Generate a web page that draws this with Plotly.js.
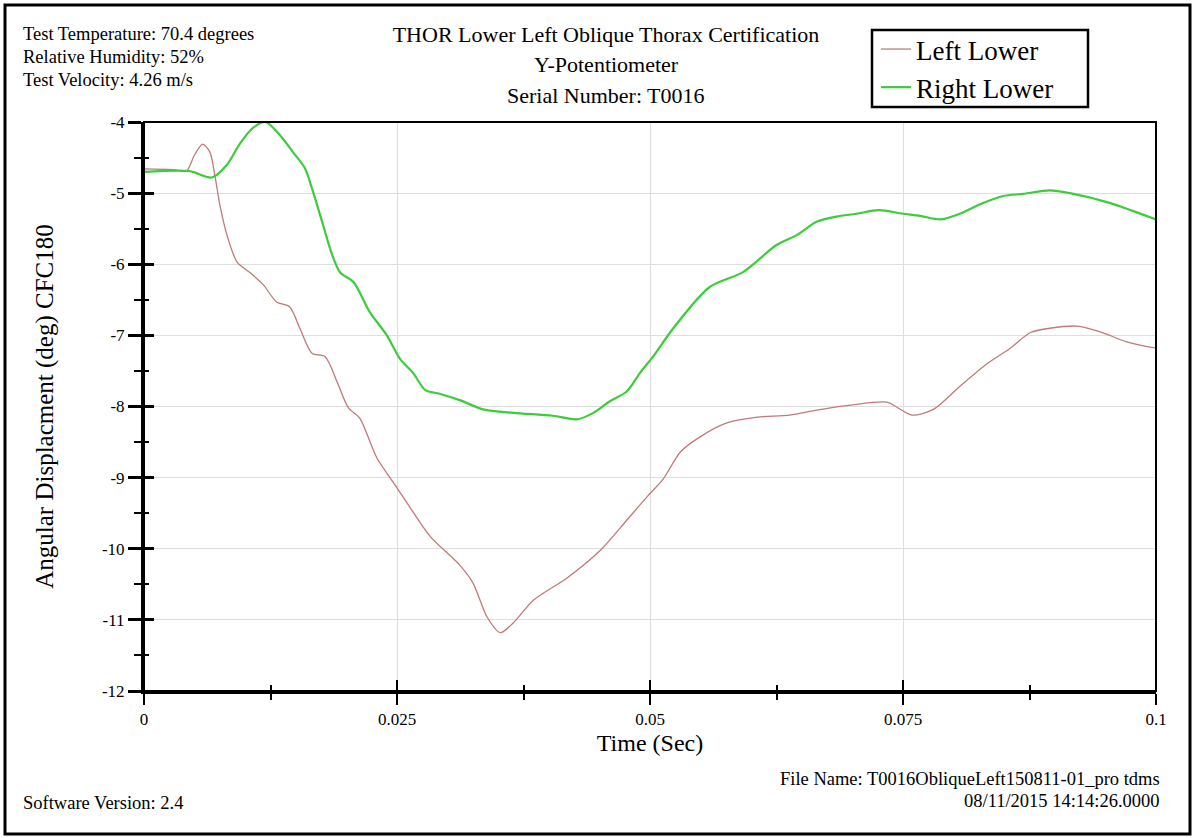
<!DOCTYPE html>
<html>
<head>
<meta charset="utf-8">
<script src="https://cdn.plot.ly/plotly-3.0.1.min.js"></script>
<style>html,body{margin:0;padding:0;background:#fff;}#chart{width:1195px;height:838px;}</style>
</head>
<body>
<div id="chart"></div>
<script>
// Left Lower (red) series
const leftTime = [0, 0.0029, 0.0042, 0.0050, 0.0058, 0.0065, 0.0070, 0.0075, 0.0082, 0.0092, 0.0105, 0.0118, 0.0131, 0.0144, 0.0154, 0.0166, 0.0179, 0.0191, 0.0202, 0.0213, 0.0230, 0.0246, 0.0262, 0.0283, 0.0312, 0.0325, 0.0339, 0.0352, 0.0365, 0.0385, 0.0418, 0.0451, 0.0477, 0.0497, 0.0513, 0.0530, 0.0549, 0.0576, 0.0606, 0.0638, 0.0665, 0.0698, 0.0734, 0.0744, 0.0759, 0.0780, 0.0806, 0.0833, 0.0856, 0.0876, 0.0895, 0.0922, 0.0945, 0.0971, 0.1000];
const leftValues = [-4.66, -4.67, -4.69, -4.46, -4.31, -4.42, -4.75, -5.17, -5.59, -5.97, -6.12, -6.29, -6.53, -6.60, -6.90, -7.25, -7.30, -7.66, -8.02, -8.16, -8.72, -9.06, -9.40, -9.83, -10.23, -10.48, -10.96, -11.18, -11.04, -10.72, -10.41, -10.02, -9.60, -9.27, -9.02, -8.64, -8.43, -8.23, -8.15, -8.12, -8.05, -7.98, -7.94, -8.01, -8.12, -8.04, -7.72, -7.40, -7.18, -6.96, -6.90, -6.87, -6.95, -7.09, -7.18];

// Right Lower (green) series
const rightTime = [0, 0.0045, 0.0067, 0.0082, 0.0095, 0.0108, 0.0120, 0.0134, 0.0147, 0.0159, 0.0167, 0.0177, 0.0186, 0.0194, 0.0207, 0.0223, 0.0240, 0.0253, 0.0266, 0.0278, 0.0292, 0.0312, 0.0335, 0.0365, 0.0404, 0.0428, 0.0444, 0.0460, 0.0477, 0.0490, 0.0503, 0.0523, 0.0559, 0.0592, 0.0625, 0.0645, 0.0665, 0.0684, 0.0704, 0.0726, 0.0750, 0.0767, 0.0787, 0.0806, 0.0829, 0.0849, 0.0869, 0.0895, 0.0915, 0.0955, 0.0977, 0.1000];
const rightValues = [-4.70, -4.69, -4.78, -4.60, -4.30, -4.08, -4.00, -4.18, -4.42, -4.65, -4.98, -5.45, -5.87, -6.12, -6.25, -6.67, -7.00, -7.33, -7.53, -7.77, -7.82, -7.91, -8.04, -8.09, -8.13, -8.18, -8.09, -7.93, -7.79, -7.53, -7.30, -6.90, -6.32, -6.11, -5.73, -5.59, -5.40, -5.33, -5.29, -5.24, -5.29, -5.32, -5.37, -5.29, -5.14, -5.04, -5.01, -4.96, -5.00, -5.14, -5.25, -5.37];

const seriesNames = ['Left Lower', 'Right Lower'];
const xTickVals = [0, 0.025, 0.05, 0.075, 0.1];
const xTickText = ['0', '0.025', '0.05', '0.075', '0.1'];
const yTickVals = [-12, -11, -10, -9, -8, -7, -6, -5, -4];
const yTickText = ['-12', '-11', '-10', '-9', '-8', '-7', '-6', '-5', '-4'];

const infoLeft = ['Test Temperature: 70.4 degrees', 'Relative Humidity: 52%', 'Test Velocity: 4.26 m/s'];
const titleLines = ['THOR Lower Left Oblique Thorax Certification', 'Y-Potentiometer', 'Serial Number: T0016'];
const footerRight = ['File Name: T0016ObliqueLeft150811-01_pro tdms', '08/11/2015 14:14:26.0000'];
const footerLeft = 'Software Version: 2.4';

const FONT = 'Liberation Serif';
const W = 1195, H = 838;
const M = {l: 144, r: 39, t: 122, b: 147};
// helpers converting page pixels to paper coords (for text placement only)
const px2x = p => (p - M.l) / (W - M.l - M.r);
const py2y = p => (H - M.b - p) / (H - M.t - M.b);

const traces = [
  {x: leftTime, y: leftValues, name: seriesNames[0], type: 'scatter', mode: 'lines',
   line: {color: '#c07a7a', width: 1.3, shape: 'spline', smoothing: 0.8}},
  {x: rightTime, y: rightValues, name: seriesNames[1], type: 'scatter', mode: 'lines',
   line: {color: '#3ccc3c', width: 2.2, shape: 'spline', smoothing: 0.8}},
  {x: [], y: [], xaxis: 'x2', yaxis: 'y2', showlegend: false, hoverinfo: 'skip', type: 'scatter', mode: 'lines'}
];

const annotations = [];
infoLeft.forEach((t, i) => annotations.push({
  text: t, xref: 'paper', yref: 'paper', x: px2x(21), y: py2y(34 + i * 23),
  xanchor: 'left', yanchor: 'middle', showarrow: false, font: {family: FONT, size: 18.5, color: '#000'}
}));
titleLines.slice(1).forEach((t, i) => annotations.push({
  text: t, xref: 'paper', yref: 'paper', x: px2x(606), y: py2y(65 + i * 30),
  xanchor: 'center', yanchor: 'middle', showarrow: false, font: {family: FONT, size: 22, color: '#000'}
}));
footerRight.forEach((t, i) => annotations.push({
  text: t, xref: 'paper', yref: 'paper', x: px2x(1162), y: py2y(779 + i * 22),
  xanchor: 'right', yanchor: 'middle', showarrow: false, font: {family: FONT, size: 18.5, color: '#000'}
}));
annotations.push({
  text: footerLeft, xref: 'paper', yref: 'paper', x: px2x(21), y: py2y(803),
  xanchor: 'left', yanchor: 'middle', showarrow: false, font: {family: FONT, size: 18.5, color: '#000'}
});

const layout = {
  width: W, height: H,
  margin: M,
  paper_bgcolor: '#fff', plot_bgcolor: '#fff',
  font: {family: FONT, color: '#000'},
  title: {text: titleLines[0], font: {family: FONT, size: 22, color: '#000'},
          xref: 'container', yref: 'container', x: 606 / W, y: 1 - 34 / H, xanchor: 'center', yanchor: 'middle'},
  showlegend: true,
  legend: {x: px2x(876), y: py2y(25), xanchor: 'left', yanchor: 'top',
           borderwidth: 0, bgcolor: 'rgba(0,0,0,0)',
           font: {family: FONT, size: 27, color: '#000'}, itemwidth: 30, tracegroupgap: 0},
  xaxis: {
    range: [0, 0.1], tickvals: xTickVals, ticktext: xTickText,
    showgrid: true, gridcolor: '#dedede', gridwidth: 1, zeroline: false,
    showline: true, linecolor: '#000', linewidth: 3, mirror: false,
    ticks: 'outside', ticklen: 11, tickwidth: 2, tickcolor: '#000',
    minor: {ticks: 'outside', dtick: 0.0125, tick0: 0, ticklen: 6, tickwidth: 2, tickcolor: '#000', showgrid: false},
    tickfont: {family: FONT, size: 17, color: '#000'},
    title: {text: 'Time (Sec)', font: {family: FONT, size: 24, color: '#000'}, standoff: 6}
  },
  yaxis: {
    range: [-12, -4], tickvals: yTickVals, ticktext: yTickText,
    showgrid: true, gridcolor: '#dedede', gridwidth: 1, zeroline: false,
    showline: true, linecolor: '#000', linewidth: 3,
    ticks: 'outside', ticklen: 13, tickwidth: 3, tickcolor: '#000',
    minor: {ticks: 'outside', dtick: 0.5, tick0: 0, ticklen: 7, tickwidth: 2, tickcolor: '#000', showgrid: false},
    tickfont: {family: FONT, size: 17, color: '#000'},
    title: {text: 'Angular Displacment (deg) CFC180', font: {family: FONT, size: 25, color: '#000'}, standoff: 42}
  },
  xaxis2: {
    overlaying: 'x', matches: 'x', side: 'bottom', range: [0, 0.1], tickvals: xTickVals,
    showticklabels: false, showgrid: false, zeroline: false, showline: false,
    ticks: 'inside', ticklen: 11, tickwidth: 2, tickcolor: '#000',
    minor: {ticks: 'inside', dtick: 0.0125, tick0: 0, ticklen: 6, tickwidth: 2, tickcolor: '#000'}
  },
  yaxis2: {
    overlaying: 'y', matches: 'y', side: 'left', range: [-12, -4], tickvals: yTickVals,
    showticklabels: false, showgrid: false, zeroline: false, showline: false,
    ticks: 'inside', ticklen: 10, tickwidth: 3, tickcolor: '#000',
    minor: {ticks: 'inside', dtick: 0.5, tick0: 0, ticklen: 5, tickwidth: 2, tickcolor: '#000'}
  },
  shapes: [
    // plot frame (top & right)
    {type: 'rect', xref: 'paper', yref: 'paper', x0: 0, x1: 1, y0: 0, y1: 1, line: {color: '#000', width: 2}, layer: 'above'},
    // legend frame
    {type: 'rect', xref: 'paper', yref: 'paper', x0: px2x(872), x1: px2x(1088), y0: py2y(107), y1: py2y(30), line: {color: '#000', width: 2.5}},
    // outer page frame
    {type: 'rect', xref: 'paper', yref: 'paper', x0: px2x(5), x1: px2x(1190), y0: py2y(834), y1: py2y(5), line: {color: '#000', width: 3}}
  ],
  annotations: annotations
};

Plotly.newPlot('chart', traces, layout, {displayModeBar: false, staticPlot: true});
</script>
</body>
</html>
